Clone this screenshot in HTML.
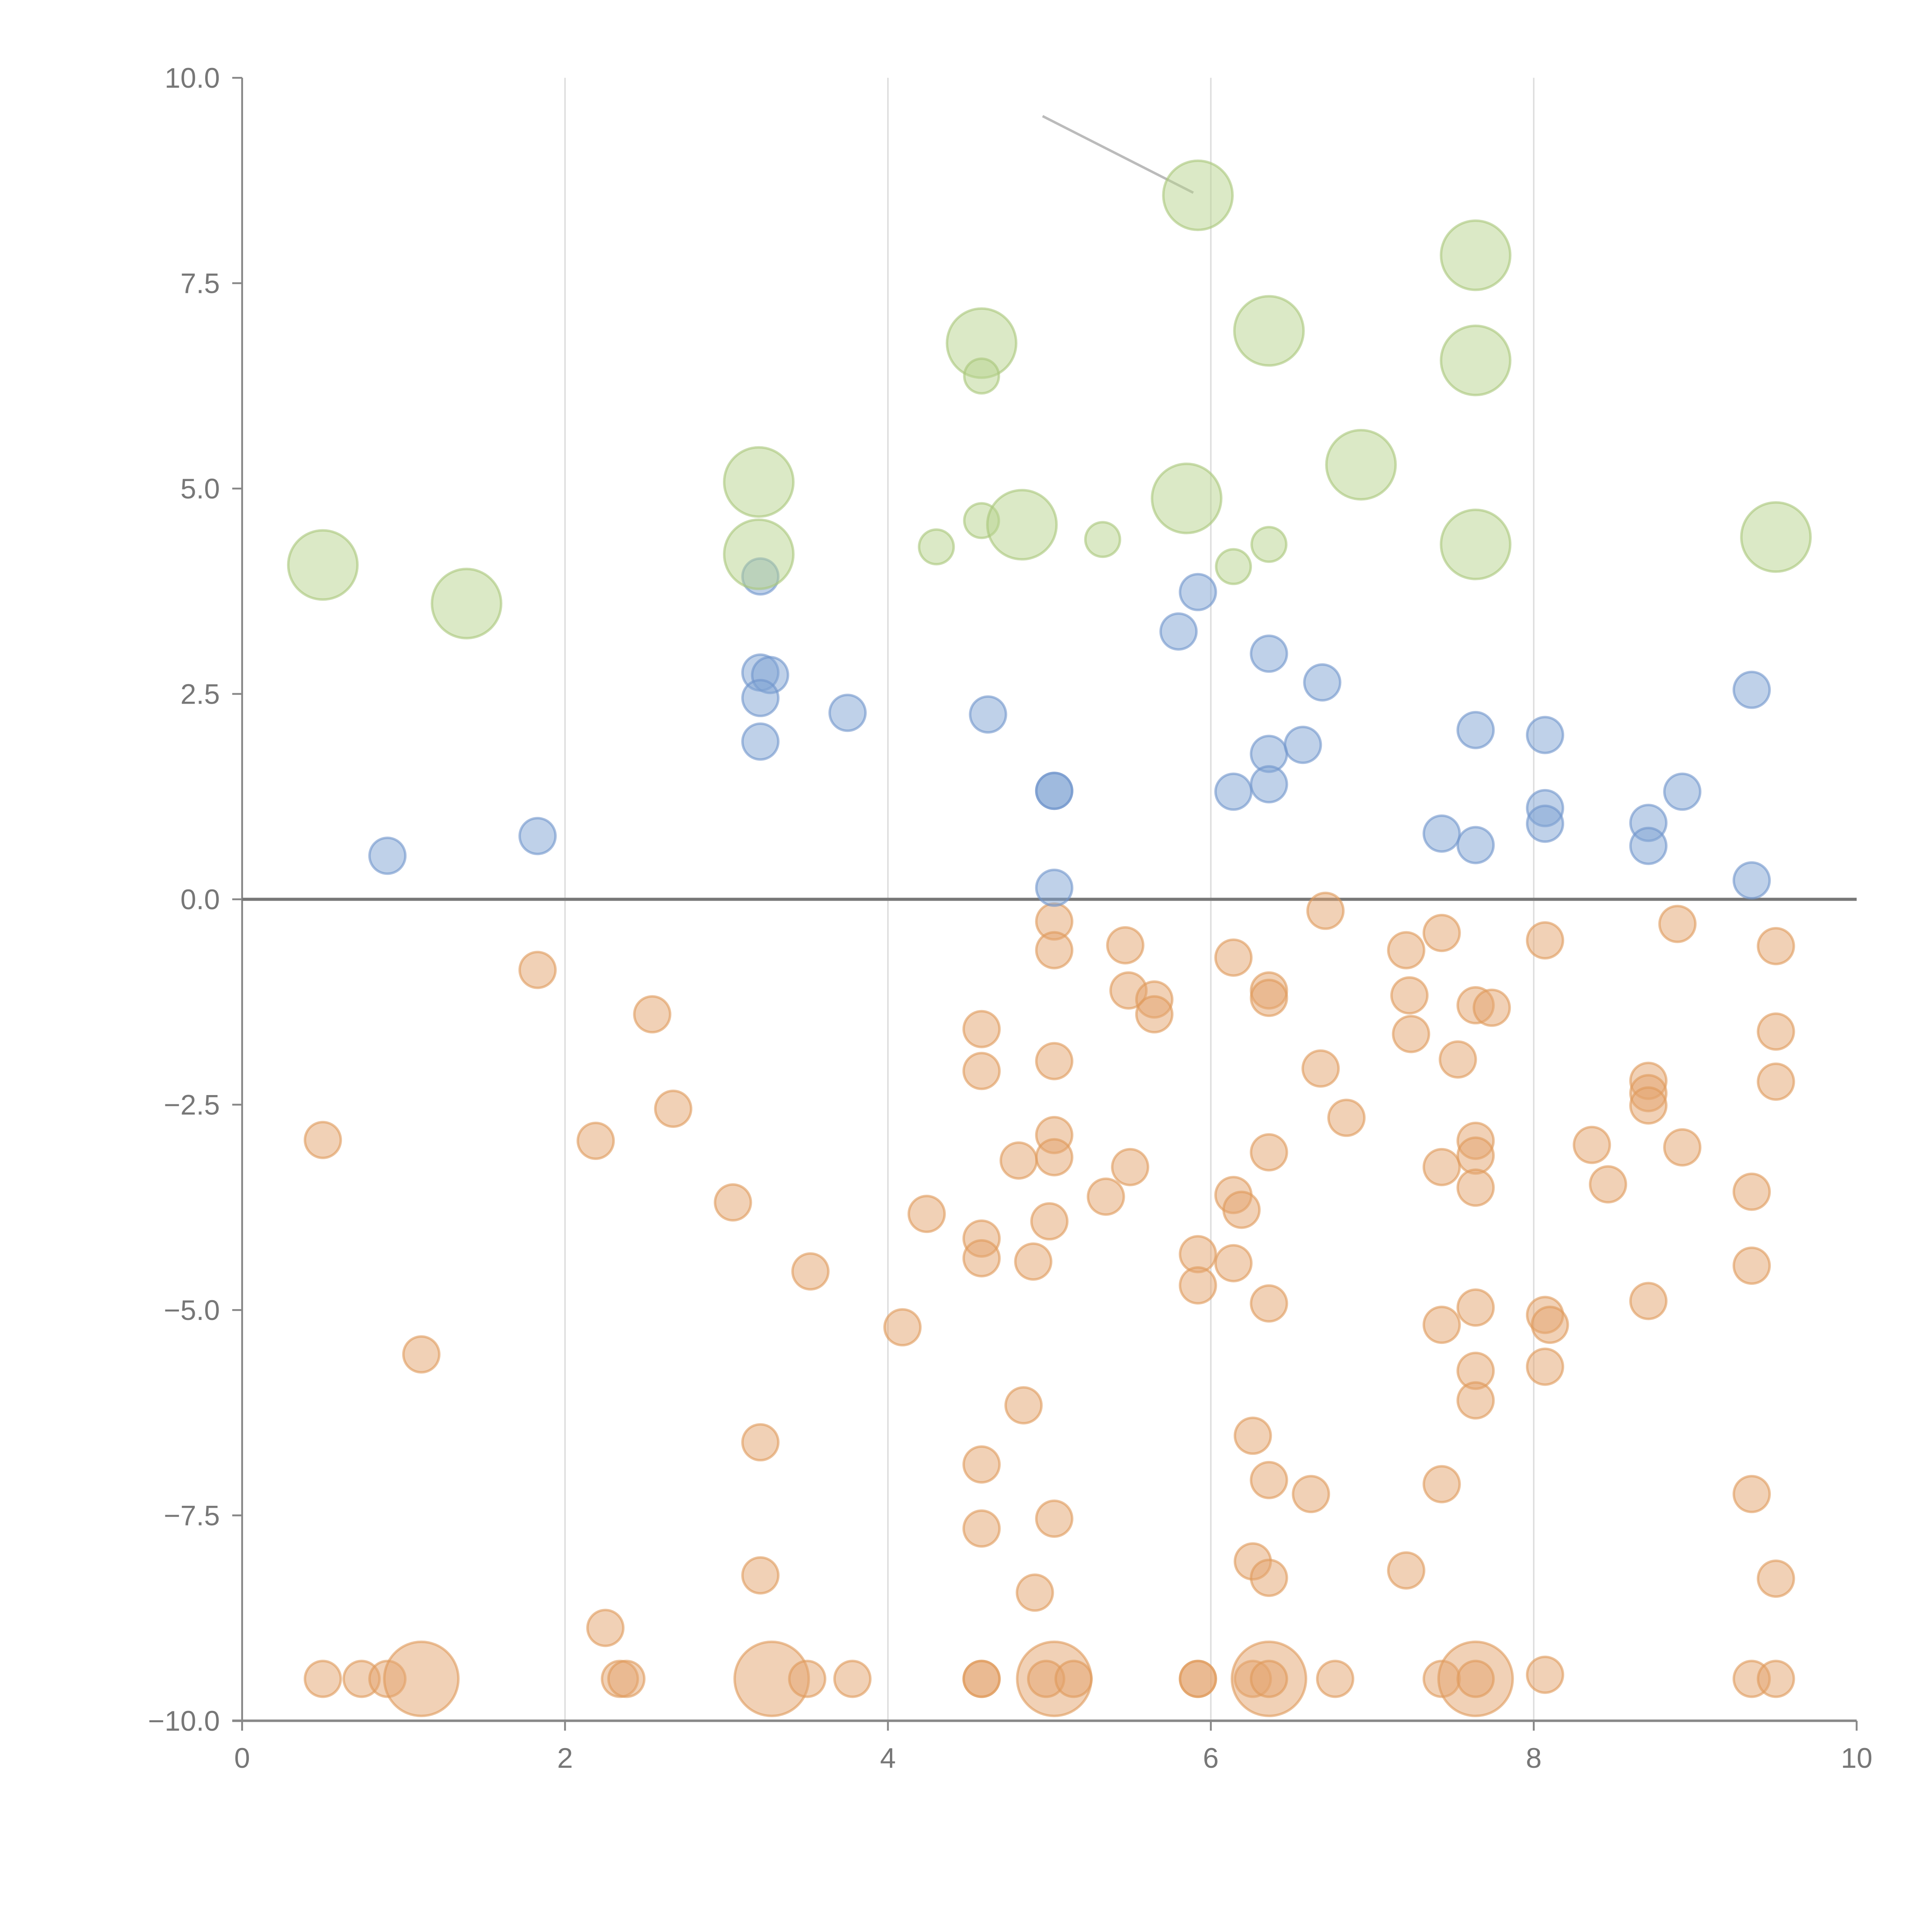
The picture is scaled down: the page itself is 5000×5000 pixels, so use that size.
<!DOCTYPE html>
<html><head><meta charset="utf-8"><style>
html,body{margin:0;padding:0;background:#fff;}
svg{display:block;}
text{font-family:"Liberation Sans",sans-serif;}
</style></head><body>
<svg id="chart" width="5000" height="5000" viewBox="0 0 1564 1564" xmlns="http://www.w3.org/2000/svg">
<g id="grid"></g>
<g id="axes"></g>
<line x1="844" y1="94" x2="966" y2="156" stroke="#bbb" stroke-width="2"/>
<g id="marks"></g>
</svg>
<script>
const xTicks=[0,2,4,6,8,10];
const yTicks=[10,7.5,5,2.5,0,-2.5,-5,-7.5,-10];
const greenX=[0.50,1.39,3.20,3.20,4.58,4.58,4.30,4.58,4.83,5.33,5.92,5.85,6.14,6.36,6.36,6.93,7.64,7.64,7.64,9.50];
const greenY=[4.07,3.60,5.08,4.20,6.77,6.37,4.29,4.61,4.56,4.38,8.57,4.88,4.05,6.92,4.32,5.29,7.84,6.56,4.32,4.41];
const greenBig=[1,1,1,1,1,0,0,0,1,0,1,1,0,1,0,1,1,1,1,1];
const blueX=[0.90,1.83,3.21,3.21,3.27,3.21,3.21,3.75,4.62,5.03,5.03,5.03,5.80,5.92,6.14,6.36,6.36,6.36,6.57,6.69,7.43,7.64,7.64,8.07,8.07,8.07,8.71,8.71,8.92,9.35,9.35];
const blueY=[0.53,0.77,3.93,2.76,2.73,2.45,1.92,2.27,2.25,1.32,1.32,0.14,3.26,3.74,1.31,2.99,1.77,1.40,1.88,2.64,0.80,2.06,0.66,2.00,1.11,0.92,0.93,0.65,1.31,2.55,0.23];
const orangeX=[0.50,1.11,1.83,2.19,2.25,2.54,2.67,3.04,3.21,3.21,3.52,4.09,4.24,4.58,4.58,4.58,4.58,4.58,4.58,4.81,4.84,4.90,4.91,5.00,5.03,5.03,5.03,5.03,5.03,5.03,5.35,5.47,5.49,5.50,5.65,5.65,5.92,5.92,6.14,6.14,6.19,6.14,6.26,6.26,6.36,6.36,6.36,6.36,6.36,6.36,6.62,6.68,6.71,6.84,7.21,7.23,7.24,7.21,7.43,7.43,7.43,7.43,7.53,7.64,7.74,7.64,7.64,7.64,7.64,7.64,7.64,8.07,8.07,8.10,8.07,8.07,8.36,8.46,8.71,8.71,8.71,8.71,8.89,8.92,9.35,9.35,9.35,9.50,9.50,9.50,9.50,
0.50,0.74,0.90,1.11,2.34,2.38,3.28,3.50,3.78,4.58,4.58,5.03,4.98,5.15,5.92,5.92,6.26,6.36,6.36,6.77,7.43,7.64,7.64,9.35,9.50];
const orangeY=[-2.93,-5.54,-0.86,-2.94,-8.87,-1.40,-2.55,-3.69,-6.61,-8.23,-4.53,-5.21,-3.83,-1.58,-2.09,-4.13,-4.37,-6.88,-7.66,-3.18,-6.16,-4.41,-8.44,-3.92,-0.27,-0.62,-1.97,-2.87,-3.14,-7.54,-3.62,-0.56,-1.11,-3.26,-1.22,-1.40,-4.32,-4.70,-0.71,-3.60,-3.78,-4.43,-6.53,-8.06,-1.11,-1.20,-3.08,-4.92,-7.07,-8.26,-7.24,-2.06,-0.14,-2.66,-0.62,-1.17,-1.64,-8.17,-0.41,-3.26,-5.18,-7.12,-1.95,-1.29,-1.32,-2.94,-3.12,-3.51,-4.97,-5.74,-6.10,-0.50,-5.06,-5.18,-5.69,-9.44,-2.99,-3.47,-2.21,-2.36,-2.51,-4.89,-0.30,-3.02,-3.56,-4.46,-7.24,-0.57,-1.61,-2.22,-8.27,
-9.49,-9.49,-9.49,-9.49,-9.49,-9.49,-9.49,-9.49,-9.49,-9.49,-9.49,-9.49,-9.49,-9.49,-9.49,-9.49,-9.49,-9.49,-9.49,-9.49,-9.49,-9.49,-9.49,-9.49,-9.49];
const orangeBigX=[1.11,3.28,5.03,6.36,7.64];

const NS='http://www.w3.org/2000/svg';
const L=196,R=1503,T=63,B=1393;
function sx(v){return L+(v-0)/(10-0)*(R-L);}
function sy(v){return B-(v+10)/20*(B-T);}
function mk(tag,attrs,parent){const e=document.createElementNS(NS,tag);for(const k in attrs)e.setAttribute(k,attrs[k]);parent.appendChild(e);return e;}
const grid=document.getElementById('grid'),axes=document.getElementById('axes'),marks=document.getElementById('marks');
function fmtY(v){const s=Math.abs(v).toFixed(1);return v<0?'\u2212'+s:s;}
xTicks.forEach(t=>{
  if(t>0&&t<10){const g=mk('line',{x1:sx(t),x2:sx(t),y1:T,y2:B,stroke:'#ddd','stroke-width':1.2},grid);
  
  }
  const tk=mk('line',{x1:sx(t),x2:sx(t),y1:B,y2:B+8,stroke:'#888','stroke-width':1.5},axes);
  
  
  const tx=mk('text',{x:sx(t),y:B+38,'text-anchor':'middle','font-size':23,fill:'#777'},axes);
  tx.textContent=t;
  
  
});
yTicks.forEach(t=>{
  const tk=mk('line',{x1:L-8,x2:L,y1:sy(t),y2:sy(t),stroke:'#888','stroke-width':1.5},axes);
  
  
  const tx=mk('text',{x:L-18,y:sy(t)+8,'text-anchor':'end','font-size':23,fill:'#777'},axes);
  tx.textContent=fmtY(t);
  
  
});
const ya=mk('line',{x1:L,x2:L,y1:T,y2:B+8,stroke:'#888','stroke-width':1.5},axes);


const xa=mk('line',{x1:L-8,x2:R,y1:B,y2:B,stroke:'#888','stroke-width':2},axes);


const zl=mk('line',{x1:L,x2:R,y1:sy(0),y2:sy(0),stroke:'#777','stroke-width':2.5},axes);



function dot(x,y,r,fill,stroke,name){
  const c=mk('circle',{cx:sx(x),cy:sy(y),r:r,fill:fill,'fill-opacity':0.5,stroke:stroke,'stroke-opacity':0.6,'stroke-width':2},marks);
  
  
}
orangeX.forEach((x,i)=>{
  const big=(orangeY[i]===-9.49&&orangeBigX.includes(x)&&orangeX.indexOf(x,91)===i);
  dot(x,orangeY[i],big?30:14.5,'#e3a46e','#e0995a','orange-point');
});
blueX.forEach((x,i)=>dot(x,blueY[i],14.5,'#7fa3d4','#6f95cc','blue-point'));
greenX.forEach((x,i)=>dot(x,greenY[i],greenBig[i]?28:14,'#b8d38d','#a9c77a','green-point'));
</script>
</body></html>
